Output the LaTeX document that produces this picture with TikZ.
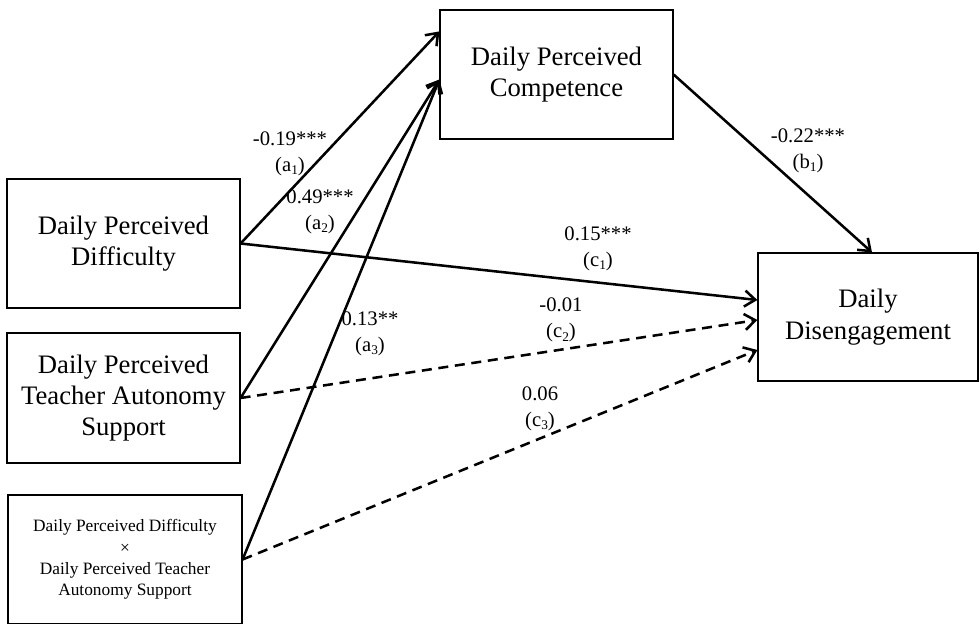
\documentclass[tikz,border=0pt]{standalone}
\usepackage{fontspec}
\setmainfont{Liberation Serif}
\usetikzlibrary{calc,arrows.meta}

\newcommand{\subidx}[1]{\raisebox{-0.4ex}{\fontsize{10}{10}\selectfont #1}}

\begin{document}
\begin{tikzpicture}[x=0.75pt,y=-0.75pt,
    varbox/.style={draw,line width=0.9pt,align=center,inner sep=0pt,
        font=\fontsize{20}{23.5}\selectfont},
    effect/.style={line width=1.9pt,
        -{Straight Barb[length=8pt,width=12pt,line width=1.9pt]}},
    weakeffect/.style={effect,dash pattern=on 7.5pt off 5pt},
    coef/.style={align=center,inner sep=0pt,
        font=\fontsize{15.5}{19.5}\selectfont}]

    \useasboundingbox (0,0) rectangle (979,624);

    % 变量框
    \node[varbox,minimum width=174.75pt,minimum height=96.75pt] (diff) at (123.5,243.5)
        {Daily Perceived\\Difficulty};
    \node[varbox,minimum width=174.75pt,minimum height=97.5pt] (teach) at (123.5,398)
        {Daily Perceived\\Teacher Autonomy\\Support};
    \node[varbox,minimum width=175.5pt,minimum height=96.75pt,
        font=\fontsize{13}{16}\selectfont] (inter) at (125,559.5)
        {Daily Perceived Difficulty\\×\\Daily Perceived Teacher\\Autonomy Support};
    \node[varbox,minimum width=174.75pt,minimum height=96.75pt] (comp) at (556.5,74.5)
        {Daily Perceived\\Competence};
    \node[varbox,minimum width=165pt,minimum height=96pt] (dis) at (868,317)
        {Daily\\Disengagement};

    % 箭头端点
    \coordinate (compA1) at ($(comp.north west)+(0,22)$);
    \coordinate (compA23) at ($(comp.west)+(0,5)$);
    \coordinate (disB) at ($(dis.north)+(4,0)$);
    \coordinate (disC1) at ($(dis.west)+(0,-17)$);
    \coordinate (disC2) at ($(dis.west)+(0,3)$);
    \coordinate (disC3) at ($(dis.west)+(0,33)$);

    % 路径
    \draw[effect] (diff.east) -- (compA1);
    \draw[effect] (teach.east) -- (compA23);
    \draw[effect] (inter.east) -- (compA23);
    \draw[effect] (comp.east) -- (disB);
    \draw[effect] (diff.east) -- (disC1);
    \draw[weakeffect] (teach.east) -- (disC2);
    \draw[weakeffect] (inter.east) -- (disC3);

    % 系数
    \node[coef] (lblA1) at (290,153.5) {-0.19***\\(a\subidx{1})};
    \node[coef] (lblA2) at (320,211.5) {0.49***\\(a\subidx{2})};
    \node[coef] (lblA3) at (370,333.5) {0.13**\\(a\subidx{3})};
    \node[coef] (lblB1) at (808,150.5) {-0.22***\\(b\subidx{1})};
    \node[coef] (lblC1) at (598,248.5) {0.15***\\(c\subidx{1})};
    \node[coef] (lblC2) at (561,320) {-0.01\\(c\subidx{2})};
    \node[coef] (lblC3) at (540,408.5) {0.06\\(c\subidx{3})};

\end{tikzpicture}
\end{document}
